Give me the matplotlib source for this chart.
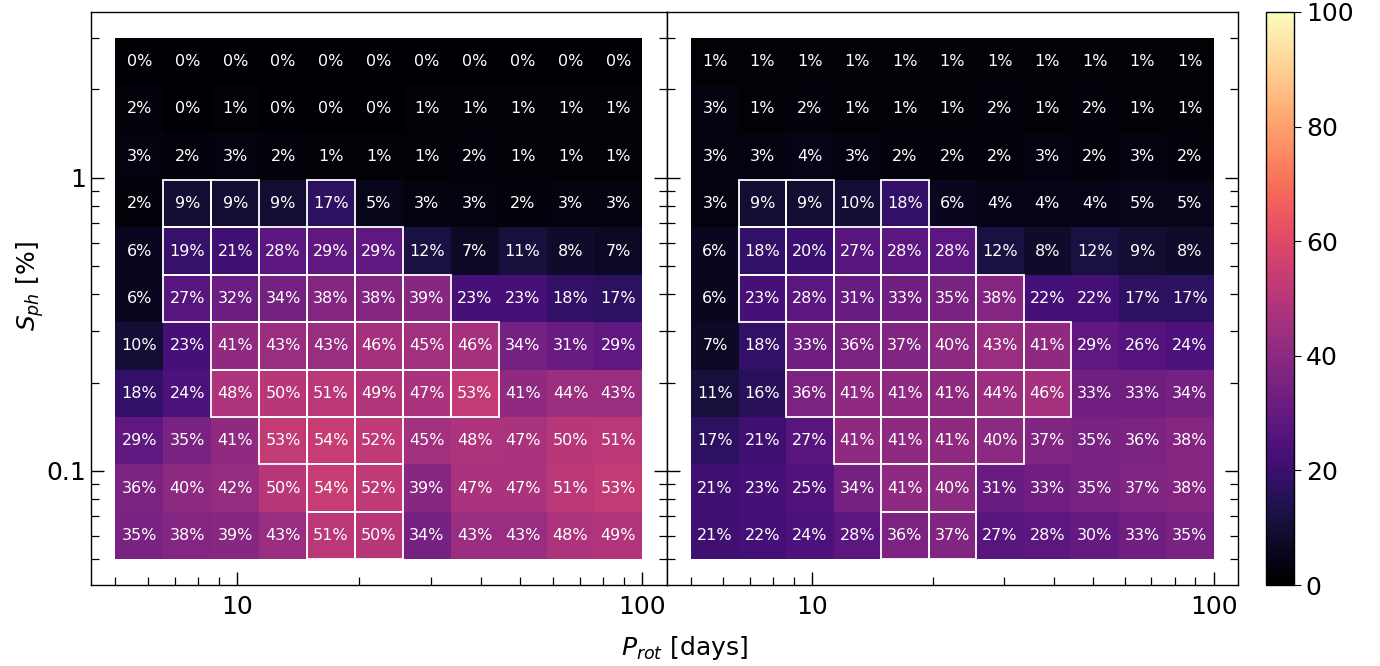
import matplotlib
matplotlib.use("Agg")
import matplotlib.pyplot as plt
import numpy as np

# bin edges of the grid (log spaced)
prot_edges = np.logspace(np.log10(5), 2, 12)
sph_edges = np.logspace(np.log10(0.05), np.log10(3), 12)

# detection fractions in %, rows listed from top (high S_ph) to bottom
frac_left = [
    [0, 0, 0, 0, 0, 0, 0, 0, 0, 0, 0],
    [2, 0, 1, 0, 0, 0, 1, 1, 1, 1, 1],
    [3, 2, 3, 2, 1, 1, 1, 2, 1, 1, 1],
    [2, 9, 9, 9, 17, 5, 3, 3, 2, 3, 3],
    [6, 19, 21, 28, 29, 29, 12, 7, 11, 8, 7],
    [6, 27, 32, 34, 38, 38, 39, 23, 23, 18, 17],
    [10, 23, 41, 43, 43, 46, 45, 46, 34, 31, 29],
    [18, 24, 48, 50, 51, 49, 47, 53, 41, 44, 43],
    [29, 35, 41, 53, 54, 52, 45, 48, 47, 50, 51],
    [36, 40, 42, 50, 54, 52, 39, 47, 47, 51, 53],
    [35, 38, 39, 43, 51, 50, 34, 43, 43, 48, 49],
]
frac_right = [
    [1, 1, 1, 1, 1, 1, 1, 1, 1, 1, 1],
    [3, 1, 2, 1, 1, 1, 2, 1, 2, 1, 1],
    [3, 3, 4, 3, 2, 2, 2, 3, 2, 3, 2],
    [3, 9, 9, 10, 18, 6, 4, 4, 4, 5, 5],
    [6, 18, 20, 27, 28, 28, 12, 8, 12, 9, 8],
    [6, 23, 28, 31, 33, 35, 38, 22, 22, 17, 17],
    [7, 18, 33, 36, 37, 40, 43, 41, 29, 26, 24],
    [11, 16, 36, 41, 41, 41, 44, 46, 33, 33, 34],
    [17, 21, 27, 41, 41, 41, 40, 37, 35, 36, 38],
    [21, 23, 25, 34, 41, 40, 31, 33, 35, 37, 38],
    [21, 22, 24, 28, 36, 37, 27, 28, 30, 33, 35],
]

# highlighted cells: row (from top) -> list of columns
boxed_left = {3: [1, 2, 4], 4: [1, 2, 3, 4, 5], 5: [1, 2, 3, 4, 5, 6],
              6: [2, 3, 4, 5, 6, 7], 7: [2, 3, 4, 5, 6, 7],
              8: [3, 4, 5], 9: [4, 5], 10: [4, 5]}
boxed_right = {3: [1, 2, 4], 4: [1, 2, 3, 4, 5], 5: [1, 2, 3, 4, 5, 6],
               6: [2, 3, 4, 5, 6, 7], 7: [2, 3, 4, 5, 6, 7],
               8: [3, 4, 5, 6], 9: [4, 5], 10: [4, 5]}

fig = plt.figure(figsize=(13.8, 6.66), dpi=100)
ax1 = fig.add_axes([0.0659, 0.1216, 0.4174, 0.8604])
ax2 = fig.add_axes([0.4833, 0.1216, 0.4138, 0.8604])
cax = fig.add_axes([0.9174, 0.1216, 0.0203, 0.8604])


def draw_panel(ax, frac, boxed, show_ylabels):
    z = np.array(frac, dtype=float)[::-1]  # bottom row first
    mesh = ax.pcolormesh(prot_edges, sph_edges, z, cmap='magma', vmin=0, vmax=100)
    nrow = z.shape[0]
    for r_top in range(nrow):
        r = nrow - 1 - r_top
        for c in range(z.shape[1]):
            xc = np.sqrt(prot_edges[c] * prot_edges[c + 1])
            yc = np.sqrt(sph_edges[r] * sph_edges[r + 1])
            ax.text(xc, yc, '%d%%' % z[r, c], ha='center', va='center',
                    color='white', fontsize=11.5)
    for r_top, cols in boxed.items():
        r = nrow - 1 - r_top
        for c in cols:
            rect = plt.Rectangle((prot_edges[c], sph_edges[r]),
                                 prot_edges[c + 1] - prot_edges[c],
                                 sph_edges[r + 1] - sph_edges[r],
                                 fill=False, edgecolor='white', lw=1.3)
            ax.add_patch(rect)
    ax.set_xscale('log')
    ax.set_yscale('log')
    ax.set_xlim(4.35, 115)
    ax.set_ylim(0.05 / 1.225, 3 * 1.225)
    ax.set_xticks([10, 100])
    ax.set_xticklabels(['10', '100'])
    ax.set_yticks([0.1, 1])
    if show_ylabels:
        ax.set_yticklabels(['0.1', '1'])
    else:
        ax.set_yticklabels([])
    ax.tick_params(which='both', direction='in', right=True, labelsize=18)
    ax.tick_params(which='major', length=9.5, width=1)
    ax.tick_params(which='minor', length=6, width=0.9)
    ax.tick_params(axis='x', pad=7)
    for s in ax.spines.values():
        s.set_linewidth(1)
    return mesh


mesh = draw_panel(ax1, frac_left, boxed_left, True)
draw_panel(ax2, frac_right, boxed_right, False)

cb = fig.colorbar(mesh, cax=cax)
cb.set_ticks([0, 20, 40, 60, 80, 100])
cb.ax.tick_params(labelsize=18, length=5)
cb.outline.set_linewidth(1)

fig.text(0.4957, 0.027, r'$P_{rot}$ [days]', ha='center', va='center', fontsize=18)
fig.text(0.022, 0.57, r'$S_{ph}$ [%]', ha='center', va='center', rotation=90, fontsize=18)

plt.savefig('out.png', dpi=100)
